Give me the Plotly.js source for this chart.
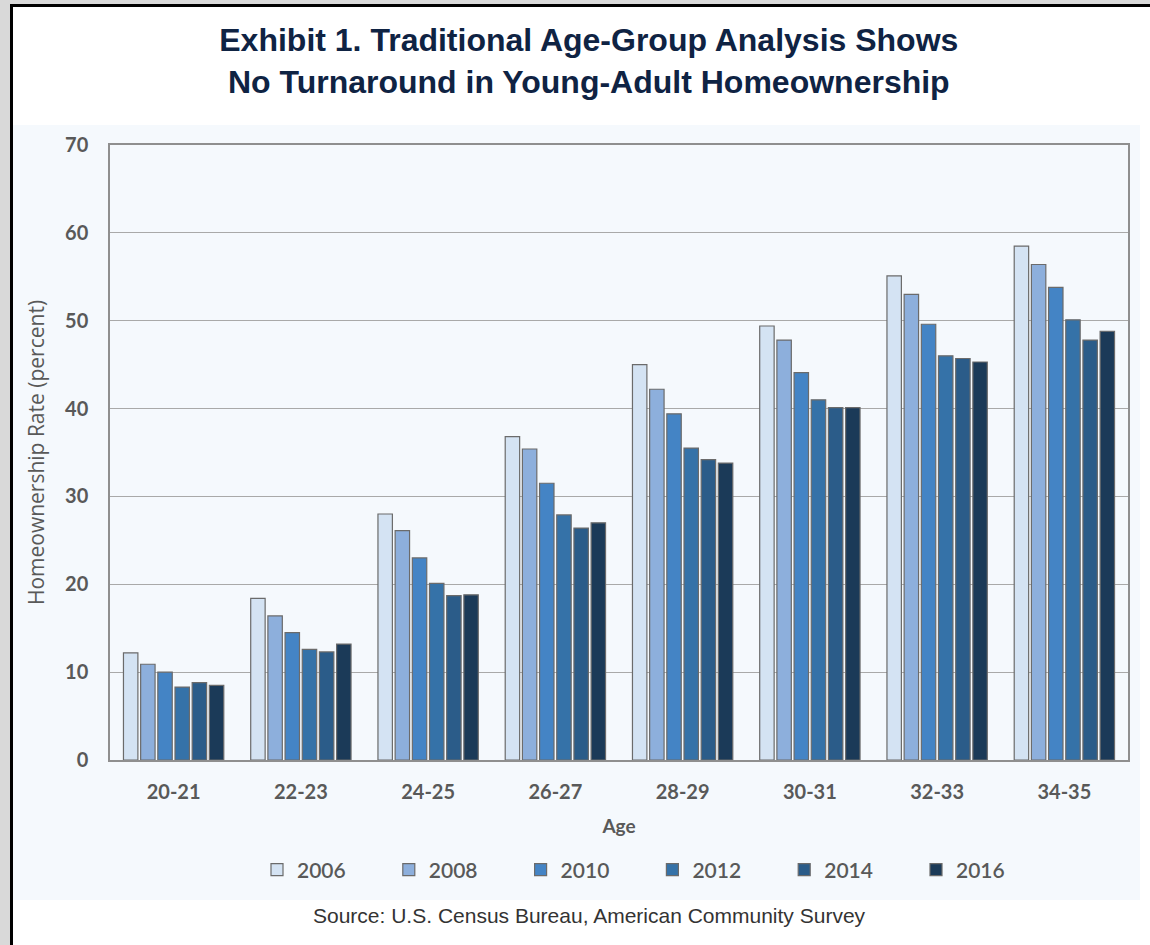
<!DOCTYPE html>
<html>
<head>
<meta charset="utf-8">
<script src="https://cdn.plot.ly/plotly-3.0.1.min.js"></script>
<style>
html,body{margin:0;padding:0;background:#ffffff;}
#chart{width:1150px;height:945px;}
</style>
</head>
<body>
<div id="chart"></div>
<script>
const ageGroups = ["20-21","22-23","24-25","26-27","28-29","30-31","32-33","34-35"];
const years = ["2006","2008","2010","2012","2014","2016"];
const rate2006 = [12.2, 18.4, 28.0, 36.8, 45.0, 49.4, 55.1, 58.5];
const rate2008 = [10.9, 16.4, 26.1, 35.4, 42.2, 47.8, 53.0, 56.4];
const rate2010 = [10.0, 14.5, 23.0, 31.5, 39.4, 44.1, 49.6, 53.8];
const rate2012 = [8.3, 12.6, 20.1, 27.9, 35.5, 41.0, 46.0, 50.1];
const rate2014 = [8.8, 12.3, 18.7, 26.4, 34.2, 40.1, 45.7, 47.8];
const rate2016 = [8.5, 13.2, 18.8, 27.0, 33.8, 40.1, 45.3, 48.8];
const seriesValues = [rate2006, rate2008, rate2010, rate2012, rate2014, rate2016];
const yTicks = [0,10,20,30,40,50,60,70];
const titleLine1 = "Exhibit 1. Traditional Age-Group Analysis Shows";
const titleLine2 = "No Turnaround in Young-Adult Homeownership";

const colors = ["#d4e3f3","#8dafdc","#4484c5","#3572a8","#2b5c89","#1b3a58"];

const W = 1150, H = 945;
const M = {l:110, r:22, t:145, b:185};
const PW = W - M.l - M.r, PH = H - M.t - M.b;
const px = x => (x - M.l) / PW;
const py = y => (H - M.b - y) / PH;

const traces = years.map((yr, i) => ({
  type: "bar",
  name: yr,
  x: ageGroups,
  y: seriesValues[i],
  marker: {color: colors[i], line: {color: "#6b6b6b", width: 1.2}},
  hoverinfo: "x+y+name"
}));

const layout = {
  width: W, height: H,
  margin: M,
  paper_bgcolor: "#ffffff",
  plot_bgcolor: "rgba(0,0,0,0)",
  barmode: "group",
  bargap: 0.19,
  bargroupgap: 0.16,
  font: {family: "Lato, 'Open Sans', sans-serif", color: "#595959"},
  title: {
    text: "<b>" + titleLine1 + "<br>" + titleLine2 + "</b>",
    font: {family: "'Liberation Sans', Arial, sans-serif", size: 32, color: "#0f2343"},
    x: 0.512, xref: "container", xanchor: "center",
    y: 1 - 51/945, yref: "container", yanchor: "top"
  },
  xaxis: {
    type: "category",
    showline: true, linecolor: "#8f8f8f", linewidth: 1.5, mirror: true,
    showgrid: false, ticks: "",
    ticklabelstandoff: 13,
    tickfont: {family: "Lato, sans-serif", size: 20, color: "#595959", weight: "bold"},
    title: {text: "Age", font: {family: "Lato, sans-serif", size: 19, color: "#595959", weight: "bold"}, standoff: 18},
    fixedrange: true
  },
  yaxis: {
    range: [0, 70],
    tickvals: yTicks,
    showline: true, linecolor: "#8f8f8f", linewidth: 1.5, mirror: true,
    showgrid: true, gridcolor: "#a9a9a9", gridwidth: 1.2,
    zeroline: false, ticks: "",
    ticklabelstandoff: 16,
    tickfont: {family: "Lato, sans-serif", size: 20, color: "#595959", weight: "bold"},
    title: {text: "Homeownership Rate (percent)", font: {family: "'Open Sans', sans-serif", size: 21, color: "#595959"}, standoff: 15},
    fixedrange: true
  },
  legend: {
    orientation: "h",
    x: px(257), xanchor: "left",
    y: py(870), yanchor: "middle",
    entrywidth: 86.8, entrywidthmode: "pixels",
    itemwidth: 30,
    font: {family: "Lato, sans-serif", size: 21, color: "#595959", weight: 600},
    bgcolor: "rgba(0,0,0,0)",
    traceorder: "normal"
  },
  shapes: [
    {type: "rect", xref: "paper", yref: "paper", x0: px(0), x1: px(10), y0: py(945), y1: py(0),
     fillcolor: "#d9d9d9", line: {width: 0}, layer: "below"},
    {type: "rect", xref: "paper", yref: "paper", x0: px(0), x1: px(1150), y0: py(4), y1: py(0),
     fillcolor: "#d9d9d9", line: {width: 0}, layer: "below"},
    {type: "rect", xref: "paper", yref: "paper", x0: px(13), x1: px(1140), y0: py(900), y1: py(125),
     fillcolor: "#f5f9fd", line: {width: 0}, layer: "below"},
    {type: "line", xref: "paper", yref: "paper", x0: px(11.5), x1: px(11.5), y0: py(945), y1: py(4),
     line: {color: "#000000", width: 3}},
    {type: "line", xref: "paper", yref: "paper", x0: px(10), x1: px(1150), y0: py(5.5), y1: py(5.5),
     line: {color: "#000000", width: 3}}
  ],
  annotations: [
    {text: "Source: U.S. Census Bureau, American Community Survey", xref: "paper", yref: "paper",
     x: px(589), y: py(915), xanchor: "center", yanchor: "middle", showarrow: false,
     font: {family: "'Liberation Sans', Arial, sans-serif", size: 21, color: "#333333"}}
  ]
};

Plotly.newPlot("chart", traces, layout, {displayModeBar: false, staticPlot: false});
</script>
</body>
</html>
